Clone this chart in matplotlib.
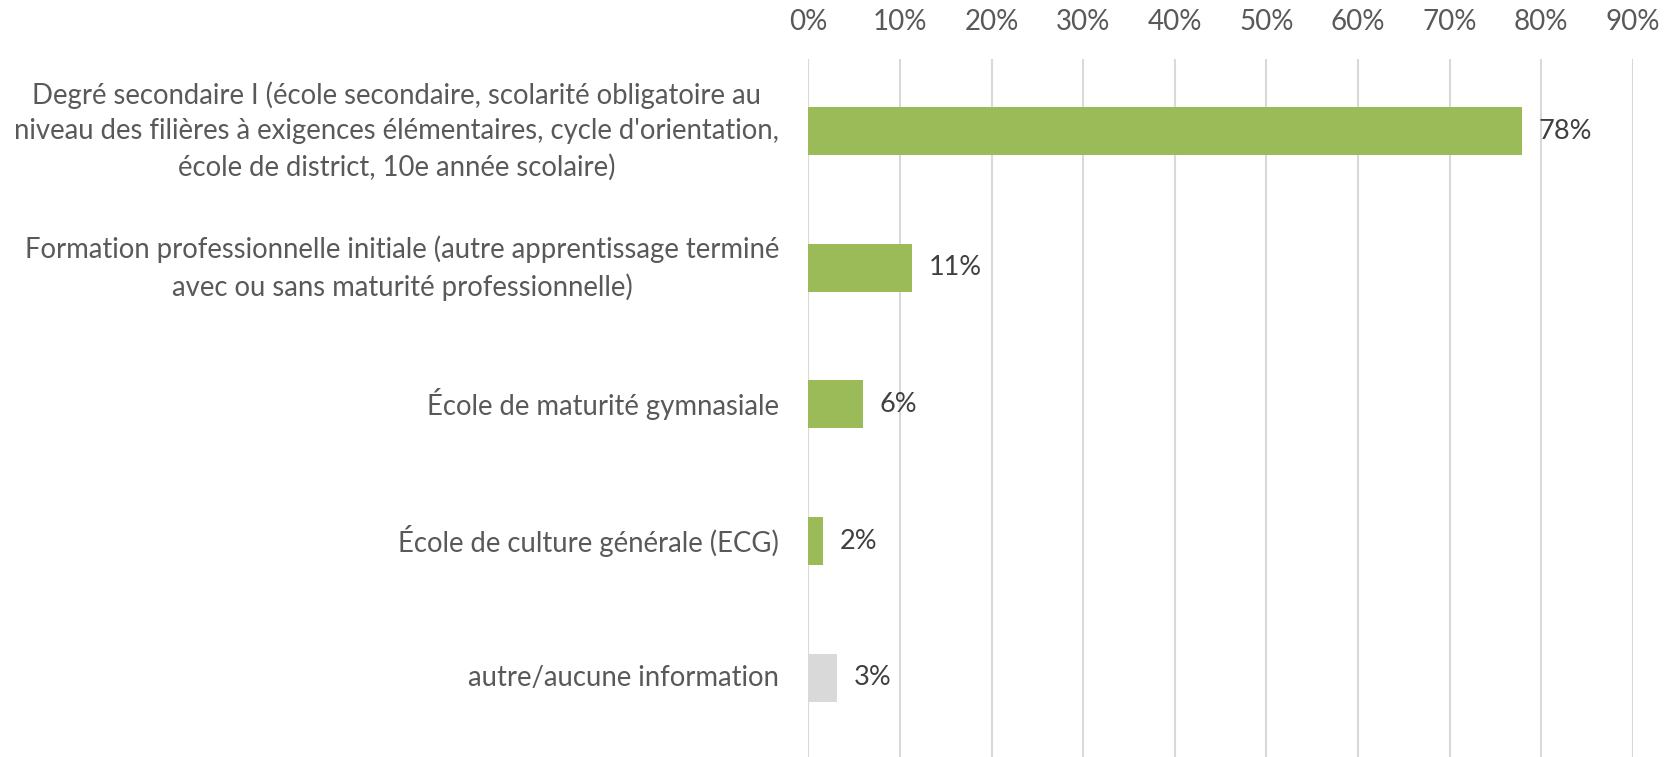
import matplotlib
matplotlib.use("Agg")
import matplotlib.pyplot as plt
from matplotlib.ticker import PercentFormatter

categories = [
    "Degré secondaire I (école secondaire, scolarité obligatoire au\nniveau des filières à exigences élémentaires, cycle d'orientation,\nécole de district, 10e année scolaire)",
    "Formation professionnelle initiale (autre apprentissage terminé\navec ou sans maturité professionnelle)",
    "École de maturité gymnasiale",
    "École de culture générale (ECG)",
    "autre/aucune information",
]
values = [77.9, 11.3, 6.0, 1.6, 3.1]
labels = ["78%", "11%", "6%", "2%", "3%"]
colors = ["#9BBB59", "#9BBB59", "#9BBB59", "#9BBB59", "#D9D9D9"]
xticks = [0, 10, 20, 30, 40, 50, 60, 70, 80, 90]

plt.rcParams['font.family'] = ['Lato', 'DejaVu Sans']

W, H = 1678, 757
fig = plt.figure(figsize=(W / 100, H / 100), dpi=100)
left = 808.3 / W
right = 1633 / W
top = 1 - 59 / H
ax = fig.add_axes([left, 0, right - left, top])

y = list(range(len(categories)))
ax.barh(y, values, height=0.35, color=colors, zorder=3)
for yi, v, lab in zip(y, values, labels):
    ax.annotate(lab, (v, yi), xytext=(12, 0), textcoords="offset points",
                va="center", ha="left", fontsize=19.5, color="#404040")

ax.set_xlim(0, 90)
ax.set_ylim(4.58, -0.527)
ax.set_xticks(xticks)
ax.xaxis.set_major_formatter(PercentFormatter(decimals=0))
ax.xaxis.tick_top()
ax.tick_params(axis="x", length=0, pad=17, labelsize=20, labelcolor="#595959")
ax.set_yticks(y)
ax.set_yticklabels(categories, fontsize=19.8, color="#595959", linespacing=1.46)
ax.tick_params(axis="y", length=0, pad=21)
for t in ax.get_yticklabels():
    t.set_ha("right")
    t.set_va("center")
    t.set_multialignment("center")
ax.grid(axis="x", color="#D9D9D9", linewidth=1.5, zorder=0)
for s in ax.spines.values():
    s.set_visible(False)

fig.savefig("out.png", dpi=100)
